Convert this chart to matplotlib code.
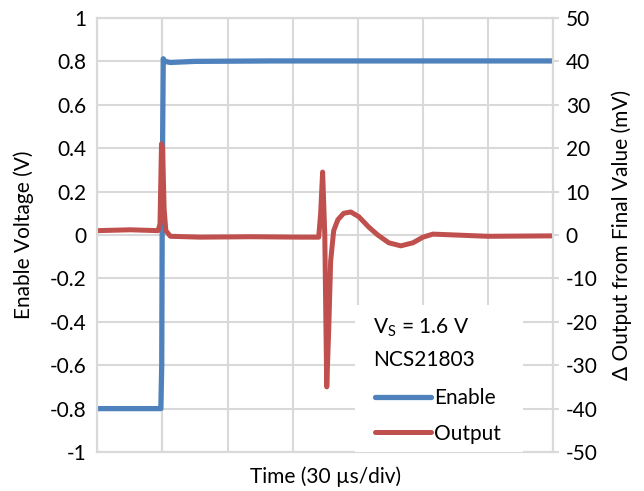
import matplotlib
matplotlib.use("Agg")
import matplotlib.pyplot as plt
from matplotlib.patches import Rectangle

plt.rcParams['font.family'] = ['Lato', 'DejaVu Sans']
plt.rcParams['axes.unicode_minus'] = False

# tiempo en microsegundos (30 us por division, 7 divisiones)
tiempo_enable = [0, 29.3, 29.7, 30.0, 30.4, 31.2, 33.7, 45, 80, 210]
enable_v = [-0.8, -0.8, -0.6, 0.3, 0.812, 0.80, 0.795, 0.80, 0.802, 0.802]

tiempo_salida = [0, 15.2, 28.0, 28.9, 29.6, 30.1, 30.8, 31.6, 33.7, 47.5, 70.6, 93.7,
                 102.0, 102.9, 103.8, 104.8, 105.7, 106.6, 107.5, 108.9, 110.8,
                 113.5, 116.8, 120.5, 125.1, 129.2, 134.3, 139.8, 145.4, 150.0,
                 154.6, 180, 210]
salida_mv = [1.0, 1.2, 1.0, 2.5, 21.0, 20.0, 6.0, 1.0, -0.3, -0.5, -0.4, -0.5,
             -0.5, 5.0, 14.5, 0.0, -35.0, -22.0, -6.0, 1.0, 3.5,
             5.0, 5.3, 4.2, 1.8, 0.0, -1.8, -2.5, -1.8, -0.5,
             0.2, -0.3, -0.2]

yticks_izq = [-1, -0.8, -0.6, -0.4, -0.2, 0, 0.2, 0.4, 0.6, 0.8, 1]
yticks_der = [-50, -40, -30, -20, -10, 0, 10, 20, 30, 40, 50]

azul = '#4F81BD'
rojo = '#C0504D'
gris = '#D9D9D9'

fig = plt.figure(figsize=(6.44, 4.91), dpi=100)
ax = fig.add_axes([0.151, 0.0794, 0.708, 0.884])
ax2 = ax.twinx()

ax.set_xlim(0, 210)
ax.set_ylim(-1, 1)
ax2.set_ylim(-50, 50)
ax.set_xticks(range(0, 211, 30))
ax.set_xticklabels([])
ax.set_yticks(yticks_izq)
ax.set_yticklabels([f"{v:g}" for v in yticks_izq])
ax2.set_yticks(yticks_der)
ax.grid(True, color=gris, linewidth=1.5)
ax.axvline(30, color='#BFBFBF', linewidth=1.5, zorder=1)
for a in (ax, ax2):
    a.tick_params(length=0, labelsize=15)
    for s in a.spines.values():
        s.set_color(gris)
        s.set_linewidth(1.5)
ax.tick_params(axis='y', pad=8)
ax2.tick_params(axis='y', length=4, width=1.5, color=gris, pad=5)

linea_en, = ax.plot(tiempo_enable, enable_v, color=azul, linewidth=3.8,
                    solid_capstyle='round', solid_joinstyle='round')
linea_out, = ax2.plot(tiempo_salida, salida_mv, color=rojo, linewidth=3.6,
                      solid_capstyle='round', solid_joinstyle='round')

ax.set_xlabel("Time (30 µs/div)", fontsize=15, labelpad=7)
ax.set_ylabel("Enable Voltage (V)", fontsize=15, labelpad=11)
ax2.set_ylabel("Δ Output from Final Value (mV)", fontsize=15, labelpad=10)

# cuadro de leyenda
ax2.add_patch(Rectangle((0.566, 0.0), 0.368, 0.339, transform=ax2.transAxes,
                        facecolor='white', edgecolor='none', zorder=5))
ax2.text(0.605, 0.286, "V$_\\mathregular{S}$ = 1.6 V", transform=ax2.transAxes,
         fontsize=15, va='center', ha='left', zorder=6)
ax2.text(0.605, 0.212, "NCS21803", transform=ax2.transAxes,
         fontsize=15, va='center', ha='left', zorder=6)
leg = ax2.legend([linea_en, linea_out], ["Enable", "Output"],
                 loc='lower left', bbox_to_anchor=(0.59, 0.0),
                 frameon=False, fontsize=15, handlelength=2.7,
                 handletextpad=0.15, labelspacing=0.75, borderaxespad=0)
leg.set_zorder(7)

fig.savefig("out.png", dpi=100)
